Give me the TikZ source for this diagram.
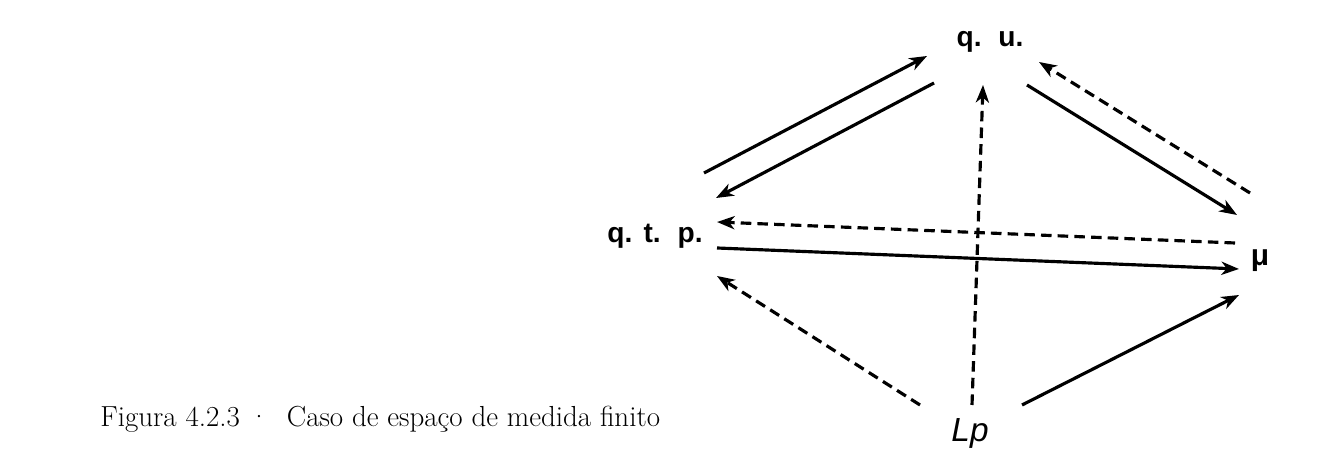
\documentclass[tikz,border=0pt]{standalone}
\usepackage{fontspec}
\newfontfamily\labelfont{Liberation Sans}
\usetikzlibrary{arrows.meta}

\begin{document}
\begin{tikzpicture}[
    lbl/.style={font=\labelfont\bfseries\fontsize{16}{18}\selectfont, inner sep=0pt, anchor=base},
    conv/.style={-{Stealth[length=10pt,width=7.5pt,inset=3pt]}, line width=1.8pt},
    dconv/.style={conv, dash pattern=on 6pt off 3.5pt}]
    \useasboundingbox (0,0) rectangle (26.8,9.48);

    \node at (19.80, 8.54) (qu) [lbl] {q.\hspace{0.6em}u.};
    \node at (13.10, 4.62) (qtp) [lbl] {q.\hspace{0.4em}t.\hspace{0.6em}p.};
    \node at (25.20, 4.16) (mu) [lbl, font=\labelfont\bfseries\fontsize{17}{18}\selectfont] {μ};
    \node at (19.40, 0.64) (Lp) [lbl, font=\labelfont\itshape\fontsize{19}{20}\selectfont] {Lp};

    \node at (2.00, 0.95) (cap) [anchor=base west, inner sep=0pt, font=\fontsize{16.5}{20}\selectfont]
        {Figura 4.2.3\hspace{0.3em}·\hspace{0.6em}Caso de espaço de medida finito};

    % q.t.p. <-> q.u.
    \draw[conv] ([shift={(0.98,1.40)}]qtp.base) -- ([shift={(-1.26,-0.18)}]qu.base);
    \draw[conv] ([shift={(-1.12,-0.72)}]qu.base) -- ([shift={(1.22,0.90)}]qtp.base);
    % q.u. <-> mu
    \draw[conv] ([shift={(0.74,-0.76)}]qu.base) -- ([shift={(-0.46,1.02)}]mu.base);
    \draw[dconv] ([shift={(-0.20,1.46)}]mu.base) -- ([shift={(0.98,-0.30)}]qu.base);
    % q.t.p. <-> mu
    \draw[dconv] ([shift={(-0.50,0.46)}]mu.base) -- ([shift={(1.24,0.42)}]qtp.base);
    \draw[conv] ([shift={(1.24,-0.10)}]qtp.base) -- ([shift={(-0.42,-0.06)}]mu.base);
    % from Lp
    \draw[dconv] ([shift={(-1.00,0.74)}]Lp.base) -- ([shift={(1.24,-0.66)}]qtp.base);
    \draw[dconv] ([shift={(0.04,0.74)}]Lp.base) -- ([shift={(-0.14,-0.76)}]qu.base);
    \draw[conv] ([shift={(1.04,0.74)}]Lp.base) -- ([shift={(-0.42,-0.58)}]mu.base);

\end{tikzpicture}
\end{document}
